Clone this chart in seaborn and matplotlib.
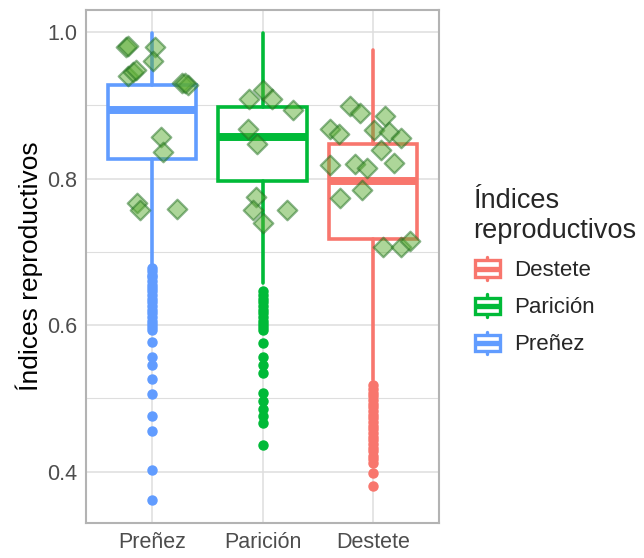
import numpy as np
import pandas as pd
import matplotlib
matplotlib.use("Agg")
import matplotlib.pyplot as plt
import seaborn as sns
from matplotlib.legend_handler import HandlerBase
from matplotlib.patches import Rectangle
from matplotlib.lines import Line2D
from matplotlib.ticker import MultipleLocator

# ---------------- data ----------------
categories = ["Preñez", "Parición", "Destete"]
legend_order = ["Destete", "Parición", "Preñez"]
palette = {"Preñez": "#619CFF", "Parición": "#00BA38", "Destete": "#F8766D"}

q1 = [0.827, 0.796, 0.718]
median = [0.893, 0.857, 0.796]
q3 = [0.927, 0.898, 0.847]
whisker_low = [0.683, 0.657, 0.525]
whisker_high = [0.998, 0.998, 0.976]

outliers_prenez = [0.678, 0.674, 0.669, 0.665, 0.660, 0.655, 0.650, 0.646, 0.641,
                   0.636, 0.631, 0.626, 0.621, 0.616, 0.611, 0.606, 0.601, 0.597,
                   0.593, 0.577, 0.557, 0.546, 0.526, 0.506, 0.476, 0.456, 0.403, 0.362]
outliers_paricion = [0.646, 0.641, 0.636, 0.631, 0.626, 0.621, 0.616, 0.611, 0.606,
                     0.601, 0.597, 0.593, 0.576, 0.557, 0.546, 0.535, 0.507, 0.496,
                     0.486, 0.476, 0.466, 0.436]
outliers_destete = [0.518, 0.513, 0.508, 0.503, 0.498, 0.493, 0.488, 0.483, 0.478,
                    0.473, 0.468, 0.463, 0.458, 0.453, 0.448, 0.443, 0.438, 0.433,
                    0.428, 0.422, 0.417, 0.412, 0.398, 0.381]
outliers = [outliers_prenez, outliers_paricion, outliers_destete]

obs_prenez = [0.979, 0.981, 0.980, 0.960, 0.940, 0.945, 0.948, 0.930, 0.927, 0.930,
              0.857, 0.836, 0.766, 0.757, 0.759]
jit_prenez = [-0.235, -0.215, 0.024, 0.010, -0.217, -0.175, -0.148, 0.266, 0.326, 0.296,
              0.076, 0.094, -0.141, -0.111, 0.226]
obs_paricion = [0.909, 0.921, 0.909, 0.893, 0.868, 0.847, 0.775, 0.757, 0.740, 0.757]
jit_paricion = [-0.121, 0.005, 0.082, 0.277, -0.130, -0.049, -0.061, -0.085, 0.005, 0.223]
obs_destete = [0.899, 0.889, 0.885, 0.868, 0.861, 0.866, 0.864, 0.856, 0.839, 0.818,
               0.820, 0.814, 0.821, 0.774, 0.785, 0.707, 0.707, 0.715]
jit_destete = [-0.211, -0.114, 0.115, -0.386, -0.302, 0.015, 0.145, 0.257, 0.076, -0.386,
               -0.166, -0.054, 0.188, -0.295, -0.096, 0.091, 0.257, 0.339]

obs_vals = [obs_prenez, obs_paricion, obs_destete]
obs_jit = [jit_prenez, jit_paricion, jit_destete]

pts = pd.DataFrame({
    "categoria": np.concatenate([[c] * len(v) for c, v in zip(categories, obs_vals)]),
    "valor": np.concatenate(obs_vals),
    "jitter": np.concatenate(obs_jit),
})
pts["x"] = pts["categoria"].map({c: i for i, c in enumerate(categories)}) + pts["jitter"]

# ---------------- style ----------------
sns.set_style("white")
plt.rcParams["font.family"] = ["Liberation Sans", "DejaVu Sans"]

fig = plt.figure(figsize=(6.44, 5.58), dpi=100)
ax = fig.add_axes([86 / 644, 1 - 523 / 558, (439 - 86) / 644, (523 - 10) / 558])

grid_col = "#DEDEDE"
border_col = "#B3B3B3"

box_lw = 2.6
for i, c in enumerate(categories):
    stats = [{
        "med": median[i], "q1": q1[i], "q3": q3[i],
        "whislo": whisker_low[i], "whishi": whisker_high[i],
        "fliers": outliers[i], "label": c,
    }]
    col = palette[c]
    ax.bxp(stats, positions=[i], widths=0.8, patch_artist=True, showcaps=False,
           boxprops=dict(facecolor="white", edgecolor=col, linewidth=box_lw),
           whiskerprops=dict(color=col, linewidth=box_lw),
           medianprops=dict(color=col, linewidth=box_lw * 2.2, solid_capstyle="butt"),
           flierprops=dict(marker="o", markerfacecolor=col, markeredgecolor=col,
                           markersize=6.5, linestyle="none"),
           zorder=2)

sns.scatterplot(data=pts, x="x", y="valor", marker="D", s=100,
                color="#5DAE34", alpha=0.5, edgecolor="#1F6E1F", linewidth=1.6,
                ax=ax, zorder=3, legend=False)

ax.set_xlim(-0.6, 2.6)
ax.set_ylim(0.330, 1.030)
ax.set_xticks(range(len(categories)))
ax.set_xticklabels(categories)
ax.yaxis.set_major_locator(MultipleLocator(0.2))
ax.yaxis.set_minor_locator(MultipleLocator(0.1))
ax.set_yticks([0.4, 0.6, 0.8, 1.0])
ax.set_yticklabels(["0.4", "0.6", "0.8", "1.0"])

ax.grid(True, which="major", color=grid_col, linewidth=1.1, zorder=0)
ax.grid(True, which="minor", axis="y", color=grid_col, linewidth=0.8, zorder=0)
ax.set_axisbelow(True)

for s in ax.spines.values():
    s.set_color(border_col)
    s.set_linewidth(1.5)

ax.tick_params(axis="both", which="major", length=3.5, width=1.1, color=border_col,
               labelsize=15.5, labelcolor="#4D4D4D", pad=3)
ax.tick_params(axis="y", which="minor", length=0)
ax.set_xlabel("")
ax.set_ylabel("Índices reproductivos", fontsize=19, color="black", labelpad=3)


# ---------------- legend ----------------
class BoxHandler(HandlerBase):
    def __init__(self, color):
        super().__init__()
        self.color = color

    def create_artists(self, legend, orig_handle, xdescent, ydescent, width, height,
                       fontsize, trans):
        col = self.color
        lw = 2.4
        bx0, bw = 0.06 * width, 0.88 * width
        by0 = -ydescent + 0.14 * height
        bh = 0.72 * height
        cx = 0.5 * width
        arts = [
            Line2D([cx, cx], [-ydescent, by0], color=col, lw=lw, transform=trans),
            Line2D([cx, cx], [by0 + bh, -ydescent + height], color=col, lw=lw, transform=trans),
            Rectangle((bx0, by0), bw, bh, facecolor="white", edgecolor=col, lw=lw, transform=trans),
            Line2D([bx0, bx0 + bw], [by0 + bh / 2] * 2, color=col, lw=lw * 1.6,
                   solid_capstyle="butt", transform=trans),
        ]
        return arts


handles = [Rectangle((0, 0), 1, 1) for _ in legend_order]
handler_map = {h: BoxHandler(palette[c]) for h, c in zip(handles, legend_order)}
leg = fig.legend(handles, legend_order, handler_map=handler_map,
                 title="Índices\nreproductivos", loc="upper left",
                 bbox_to_anchor=(455 / 644, 1 - 170 / 558), frameon=False,
                 fontsize=16, title_fontsize=19.5, handlelength=1.3, handleheight=1.2,
                 handletextpad=0.55, labelspacing=0.6, borderpad=0.3)
leg._legend_box.align = "left"

fig.savefig("out.png", dpi=100)
